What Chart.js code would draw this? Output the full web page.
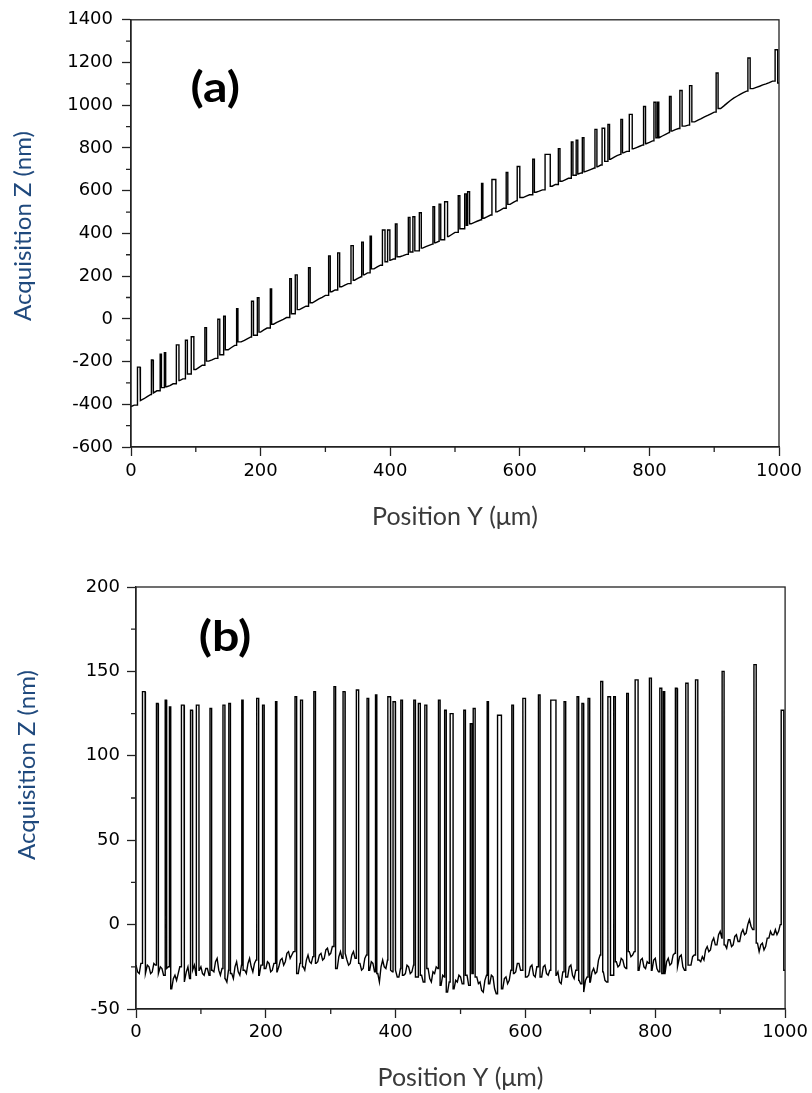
<!DOCTYPE html>
<html>
<head>
<meta charset="utf-8">
<script src="https://cdn.jsdelivr.net/npm/chart.js@4.4.1/dist/chart.umd.min.js"></script>
<style>
  html, body { margin: 0; padding: 0; background: #fff; }
  #wrap { position: relative; width: 812px; height: 1093px; }
  #chart-a { position: absolute; left: 0; top: 0; }
  #chart-b { position: absolute; left: 0; top: 540px; }
</style>
</head>
<body>
<div id="wrap">
  <canvas id="chart-a" width="812" height="540"></canvas>
  <canvas id="chart-b" width="812" height="553"></canvas>
</div>
<script>
// axis ticks
const ticksX = [0, 200, 400, 600, 800, 1000];
const minorX = [100, 300, 500, 700, 900];
const ticksYA = [-600, -400, -200, 0, 200, 400, 600, 800, 1000, 1200, 1400];
const minorYA = [-500, -300, -100, 100, 300, 500, 700, 900, 1100, 1300];
const ticksYB = [-50, 0, 50, 100, 150, 200];
const minorYB = [-25, 25, 75, 125, 175];

// spike positions along Y (um): [start, end], same features in both scans
const spikeY = [[10,14],[31.5,34],[45,47],[51.5,53.5],[70,74],[84,87],[93,97],[114,116.5],[134,137],[143,145.5],
  [163,165],[186,189],[195,197.5],[215,217],[245,247.5],[253.5,256.5],[274,276.5],[305,307.5],[319,322],[339.5,343],
  [356,358.5],[369,371],[388,392],[396,399.5],[408,410.5],[428,430.5],[435,438],[445,448],[466,468.5],[475.5,478],
  [484,488.5],[505,507.5],[515,517.5],[519.5,522.5],[541,543],[557,563],[579,581.5],[596,600],[620,622.5],[639,647],
  [659.5,662],[679.5,682],[687,689.5],[696.5,699],[716,719],[727,731],[736,738.5],[756,758.5],[769,773.5],[791,794],
  [807,810],[812.5,814.5],[831,833.5],[847,850.5],[862,865.5],[903,906],[952,955.5],[994,998]];

// spike tops (nm)
const spikeTopA = [-226,-193,-165,-159,-122,-100,-84,-41,-2,12,
  48,82,99,140,188,206,239,295,309,343,
  359,387,416,416,444,475,478,497,525,537,
  548,576,585,595,634,652,685,713,747,770,
  797,828,836,848,887,892,910,934,957,994,
  1014,1014,1041,1069,1092,1151,1221,1260];
const spikeTopB = [138,131,133,129,130,127,130,128,130,131,
  133,134,130,132,135,133,138,141,138,139,
  134,136,135,132,133,133,131,130,133,127,
  125,127,119,128,132,124,130,134,136,133,
  132,135,131,134,144,135,135,137,145,146,
  140,138,140,143,145,150,154,127];

// surface line between spikes: [Y um, Z nm]
const baseA = [[0,-411],[5,-404],[10,-392],[15,-383],[20,-374],[25,-364],[30,-355],[35,-347],[40,-337],[45,-330],
  [50,-322],[55,-318],[60,-313],[65,-304],[70,-296],[75,-289],[80,-281],[85,-268],[90,-258],[95,-247],
  [100,-237],[105,-227],[110,-217],[115,-207],[120,-198],[125,-192],[130,-185],[135,-177],[140,-168],[145,-156],
  [150,-145],[155,-134],[160,-124],[165,-116],[170,-108],[175,-101],[180,-93],[185,-85],[190,-77],[195,-70],
  [200,-62],[205,-52],[210,-43],[215,-34],[220,-25],[225,-17],[230,-9],[235,-2],[240,6],[245,15],
  [250,24],[255,33],[260,43],[265,51],[270,59],[275,67],[280,75],[285,84],[290,93],[295,101],
  [300,110],[305,118],[310,127],[315,135],[320,143],[325,150],[330,158],[335,165],[340,173],[345,181],
  [350,189],[355,197],[360,206],[365,215],[370,224],[375,234],[380,243],[385,251],[390,259],[395,267],
  [400,274],[405,280],[410,285],[415,291],[420,296],[425,302],[430,307],[435,313],[440,318],[445,325],
  [450,331],[455,338],[460,344],[465,350],[470,356],[475,363],[480,370],[485,377],[490,385],[495,395],
  [500,405],[505,414],[510,422],[515,430],[520,438],[525,445],[530,452],[535,458],[540,464],[545,471],
  [550,478],[555,486],[560,494],[565,501],[570,509],[575,518],[580,527],[585,536],[590,545],[595,553],
  [600,560],[605,568],[610,575],[615,581],[620,587],[625,593],[630,598],[635,604],[640,609],[645,615],
  [650,621],[655,629],[660,636],[665,644],[670,651],[675,658],[680,665],[685,672],[690,678],[695,683],
  [700,688],[705,694],[710,700],[715,706],[720,712],[725,720],[730,728],[735,737],[740,747],[745,756],
  [750,764],[755,770],[760,777],[765,784],[770,790],[775,796],[780,802],[785,808],[790,814],[795,820],
  [800,826],[805,833],[810,840],[815,848],[820,856],[825,864],[830,872],[835,879],[840,886],[845,891],
  [850,896],[855,902],[860,907],[865,915],[870,922],[875,930],[880,937],[885,945],[890,952],[895,960],
  [900,968],[905,976],[910,985],[915,997],[920,1010],[925,1022],[930,1033],[935,1042],[940,1051],[945,1059],
  [950,1066],[955,1072],[960,1078],[965,1084],[970,1089],[975,1095],[980,1100],[985,1106],[990,1113],[995,1116],
  [1000,1104]];

const baseB = [[0,-24],[2.5,-28],[5,-29],[7.5,-23],[10,-21],[12.5,-26],[15,-29],[17.5,-24],[20,-25],[22.5,-29],
  [25,-28],[27.5,-23],[30,-24],[32.5,-28],[35,-29],[37.5,-25],[40,-26],[42.5,-30],[45,-31],[47.5,-26],
  [50,-25],[52.5,-33],[55,-38],[57.5,-32],[60,-30],[62.5,-33],[65,-29],[67.5,-25],[70,-24],[72.5,-30],
  [75,-34],[77.5,-28],[80,-25],[82.5,-32],[85,-35],[87.5,-27],[90,-24],[92.5,-30],[95,-34],[97.5,-27],
  [100,-25],[102.5,-29],[105,-30],[107.5,-26],[110,-26],[112.5,-30],[115,-31],[117.5,-27],[120,-28],[122.5,-22],
  [125,-20],[127.5,-27],[130,-30],[132.5,-26],[135,-27],[137.5,-32],[140,-34],[142.5,-27],[145,-23],[147.5,-29],
  [150,-32],[152.5,-25],[155,-22],[157.5,-28],[160,-30],[162.5,-24],[165,-21],[167.5,-27],[170,-29],[172.5,-23],
  [175,-20],[177.5,-25],[180,-28],[182.5,-23],[185,-21],[187.5,-27],[190,-30],[192.5,-24],[195,-22],[197.5,-27],
  [200,-26],[202.5,-22],[205,-23],[207.5,-28],[210,-27],[212.5,-23],[215,-24],[217.5,-28],[220,-25],[222.5,-21],
  [225,-20],[227.5,-24],[230,-22],[232.5,-17],[235,-16],[237.5,-20],[240,-18],[242.5,-16],[245,-20],[247.5,-26],
  [250,-29],[252.5,-23],[255,-20],[257.5,-25],[260,-27],[262.5,-21],[265,-18],[267.5,-22],[270,-23],[272.5,-19],
  [275,-19],[277.5,-23],[280,-22],[282.5,-18],[285,-17],[287.5,-21],[290,-20],[292.5,-15],[295,-14],[297.5,-18],
  [300,-17],[302.5,-13],[305,-12],[307.5,-20],[310,-26],[312.5,-19],[315,-16],[317.5,-20],[320,-20],[322.5,-17],
  [325,-21],[327.5,-24],[330,-23],[332.5,-18],[335,-16],[337.5,-20],[340,-20],[342.5,-19],[345,-23],[347.5,-27],
  [350,-26],[352.5,-20],[355,-18],[357.5,-24],[360,-27],[362.5,-22],[365,-23],[367.5,-28],[370,-27],[372.5,-29],
  [375,-34],[377.5,-25],[380,-21],[382.5,-25],[385,-26],[387.5,-21],[390,-22],[392.5,-27],[395,-28],[397.5,-25],
  [400,-27],[402.5,-31],[405,-31],[407.5,-26],[410,-26],[412.5,-30],[415,-29],[417.5,-24],[420,-25],[422.5,-29],
  [425,-28],[427.5,-24],[430,-26],[432.5,-31],[435,-31],[437.5,-28],[440,-30],[442.5,-34],[445,-34],[447.5,-27],
  [450,-26],[452.5,-32],[455,-34],[457.5,-28],[460,-29],[462.5,-25],[465,-26],[467.5,-33],[470,-36],[472.5,-30],
  [475,-31],[477.5,-37],[480,-40],[482.5,-34],[485,-33],[487.5,-38],[490,-38],[492.5,-33],[495,-34],[497.5,-30],
  [500,-31],[502.5,-35],[505,-34],[507.5,-29],[510,-30],[512.5,-36],[515,-38],[517.5,-31],[520,-29],[522.5,-33],
  [525,-31],[527.5,-35],[530,-34],[532.5,-39],[535,-40],[537.5,-33],[540,-30],[542.5,-35],[545,-35],[547.5,-30],
  [550,-31],[552.5,-38],[555,-41],[557.5,-35],[560,-34],[562.5,-39],[565,-38],[567.5,-32],[570,-31],[572.5,-35],
  [575,-33],[577.5,-27],[580,-25],[582.5,-29],[585,-28],[587.5,-23],[590,-23],[592.5,-27],[595,-27],[597.5,-23],
  [600,-27],[602.5,-31],[605,-30],[607.5,-25],[610,-24],[612.5,-30],[615,-31],[617.5,-25],[620,-23],[622.5,-29],
  [625,-31],[627.5,-25],[630,-24],[632.5,-29],[635,-30],[637.5,-27],[640,-31],[642.5,-36],[645,-37],[647.5,-30],
  [650,-28],[652.5,-34],[655,-35],[657.5,-28],[660,-26],[662.5,-31],[665,-31],[667.5,-25],[670,-24],[672.5,-30],
  [675,-32],[677.5,-27],[680,-27],[682.5,-33],[685,-35],[687.5,-39],[690,-40],[692.5,-33],[695,-31],[697.5,-35],
  [700,-34],[702.5,-28],[705,-26],[707.5,-29],[710,-28],[712.5,-21],[715,-18],[717.5,-25],[720,-28],[722.5,-33],
  [725,-34],[727.5,-28],[730,-26],[732.5,-30],[735,-30],[737.5,-24],[740,-22],[742.5,-25],[745,-24],[747.5,-20],
  [750,-21],[752.5,-25],[755,-26],[757.5,-19],[760,-16],[762.5,-19],[765,-18],[767.5,-16],[770,-19],[772.5,-25],
  [775,-27],[777.5,-21],[780,-20],[782.5,-25],[785,-26],[787.5,-22],[790,-23],[792.5,-27],[795,-27],[797.5,-21],
  [800,-20],[802.5,-26],[805,-28],[807.5,-24],[810,-25],[812.5,-29],[815,-29],[817.5,-22],[820,-20],[822.5,-24],
  [825,-23],[827.5,-18],[830,-17],[832.5,-23],[835,-25],[837.5,-19],[840,-18],[842.5,-25],[845,-27],[847.5,-21],
  [850,-20],[852.5,-24],[855,-24],[857.5,-19],[860,-18],[862.5,-24],[865,-25],[867.5,-21],[870,-22],[872.5,-19],
  [875,-21],[877.5,-15],[880,-13],[882.5,-16],[885,-15],[887.5,-10],[890,-8],[892.5,-12],[895,-12],[897.5,-6],
  [900,-4],[902.5,-8],[905,-7],[907.5,-12],[910,-14],[912.5,-9],[915,-9],[917.5,-13],[920,-12],[922.5,-7],
  [925,-6],[927.5,-10],[930,-10],[932.5,-5],[935,-3],[937.5,-6],[940,-5],[942.5,0],[945,3],[947.5,-1],
  [950,-3],[952.5,0],[955,-2],[957.5,-11],[960,-16],[962.5,-12],[965,-11],[967.5,-15],[970,-13],[972.5,-8],
  [975,-8],[977.5,-4],[980,-6],[982.5,-6],[985,-3],[987.5,-6],[990,-4],[992.5,0],[995,0],[997.5,-2],
  [1000,-27]];

// merge the surface samples with the spike plateaus (level held on each side)
function buildTrace(base, tops) {
  const pts = [];
  let i = 0, lastZ = base[0][1];
  spikeY.forEach(([x1, x2], s) => {
    while (i < base.length && base[i][0] < x1) {
      pts.push({ x: base[i][0], y: base[i][1] });
      lastZ = base[i][1];
      i++;
    }
    while (i < base.length && base[i][0] <= x2) i++;
    const nextZ = i < base.length ? base[i][1] : lastZ;
    pts.push({ x: x1, y: lastZ }, { x: x1, y: tops[s] }, { x: x2, y: tops[s] }, { x: x2, y: nextZ });
    lastZ = nextZ;
  });
  while (i < base.length) { pts.push({ x: base[i][0], y: base[i][1] }); i++; }
  return pts;
}

// frame, minor ticks, axis titles and the (a)/(b) tag
const decor = {
  id: "decor",
  afterDraw(chart, args, opts) {
    const { ctx, chartArea: a, scales: { x, y } } = chart;
    ctx.save();
    ctx.strokeStyle = "#222";
    ctx.lineWidth = 1.3;
    ctx.strokeRect(a.left, a.top, a.right - a.left, a.bottom - a.top);
    ctx.beginPath();
    opts.minorX.forEach(v => {
      const px = x.getPixelForValue(v);
      ctx.moveTo(px, a.bottom); ctx.lineTo(px, a.bottom + 5);
    });
    opts.minorY.forEach(v => {
      const py = y.getPixelForValue(v);
      ctx.moveTo(a.left, py); ctx.lineTo(a.left - 5, py);
    });
    ctx.stroke();

    ctx.textAlign = "center";
    ctx.textBaseline = "middle";
    ctx.font = "25px Lato";
    ctx.fillStyle = "#3a3a3a";
    ctx.fillText("Position Y (μm)", (a.left + a.right) / 2, a.bottom + opts.xTitleGap);

    ctx.save();
    ctx.translate(opts.yTitleAt[0], opts.yTitleAt[1]);
    ctx.rotate(-Math.PI / 2);
    ctx.font = "24px Lato";
    ctx.fillStyle = "#1F497D";
    ctx.fillText("Acquisition Z (nm)", 0, 0);
    ctx.restore();

    ctx.translate(x.getPixelForValue(opts.tagAt[0]), y.getPixelForValue(opts.tagAt[1]));
    ctx.scale(1.15, 1);
    ctx.font = "700 42px Lato";
    ctx.fillStyle = "#000";
    ctx.fillText(opts.tag, 0, 0);
    ctx.restore();
  },
};

function makeChart(id, cfg) {
  return new Chart(document.getElementById(id), {
    type: "line",
    data: {
      datasets: [{
        data: cfg.points,
        borderColor: "#000",
        borderWidth: 1.4,
        pointRadius: 0,
        tension: 0,
        fill: false,
      }],
    },
    options: {
      responsive: false,
      animation: false,
      events: [],
      layout: { padding: { top: cfg.padTop, right: cfg.padRight, left: 0, bottom: 0 } },
      plugins: {
        legend: { display: false },
        tooltip: { enabled: false },
        decor: {
          minorX: minorX, minorY: cfg.minorY, tag: cfg.tag, tagAt: cfg.tagAt,
          xTitleGap: cfg.xTitleGap, yTitleAt: cfg.yTitleAt,
        },
      },
      scales: {
        x: {
          type: "linear",
          min: 0,
          max: 1000,
          afterBuildTicks: s => { s.ticks = ticksX.map(v => ({ value: v })); },
          afterFit: s => { s.height = cfg.xHeight; },
          grid: { drawOnChartArea: false, tickLength: 9, tickColor: "#222", tickWidth: 1.3 },
          border: { color: "#222", width: 1.3 },
          ticks: { color: "#000", font: { family: "DejaVu Sans", size: 18 }, padding: cfg.xTickPad, maxRotation: 0, callback: v => String(v) },
        },
        y: {
          type: "linear",
          min: cfg.yMin,
          max: cfg.yMax,
          afterBuildTicks: s => { s.ticks = cfg.ticksY.map(v => ({ value: v })); },
          afterFit: s => { s.width = cfg.yWidth; },
          grid: { drawOnChartArea: false, tickLength: 9, tickColor: "#222", tickWidth: 1.3 },
          border: { color: "#222", width: 1.3 },
          ticks: { color: "#000", font: { family: "DejaVu Sans", size: 18 }, padding: cfg.yTickPad, callback: v => String(v) },
        },
      },
    },
    plugins: [decor],
  });
}

makeChart("chart-a", {
  points: buildTrace(baseA, spikeTopA),
  padTop: 18, padRight: 33, xHeight: 93, yWidth: 131,
  xTickPad: 5, yTickPad: 9, xTitleGap: 70, yTitleAt: [23, 226],
  yMin: -600, yMax: 1400, ticksY: ticksYA, minorY: minorYA,
  tag: "(a)", tagAt: [130, 1077],
});

makeChart("chart-b", {
  points: buildTrace(baseB, spikeTopB),
  padTop: 47, padRight: 26, xHeight: 84, yWidth: 136,
  xTickPad: 4, yTickPad: 7, xTitleGap: 69, yTitleAt: [27, 225],
  yMin: -50, yMax: 200, ticksY: ticksYB, minorY: minorYB,
  tag: "(b)", tagAt: [137, 170],
});
</script>
</body>
</html>
